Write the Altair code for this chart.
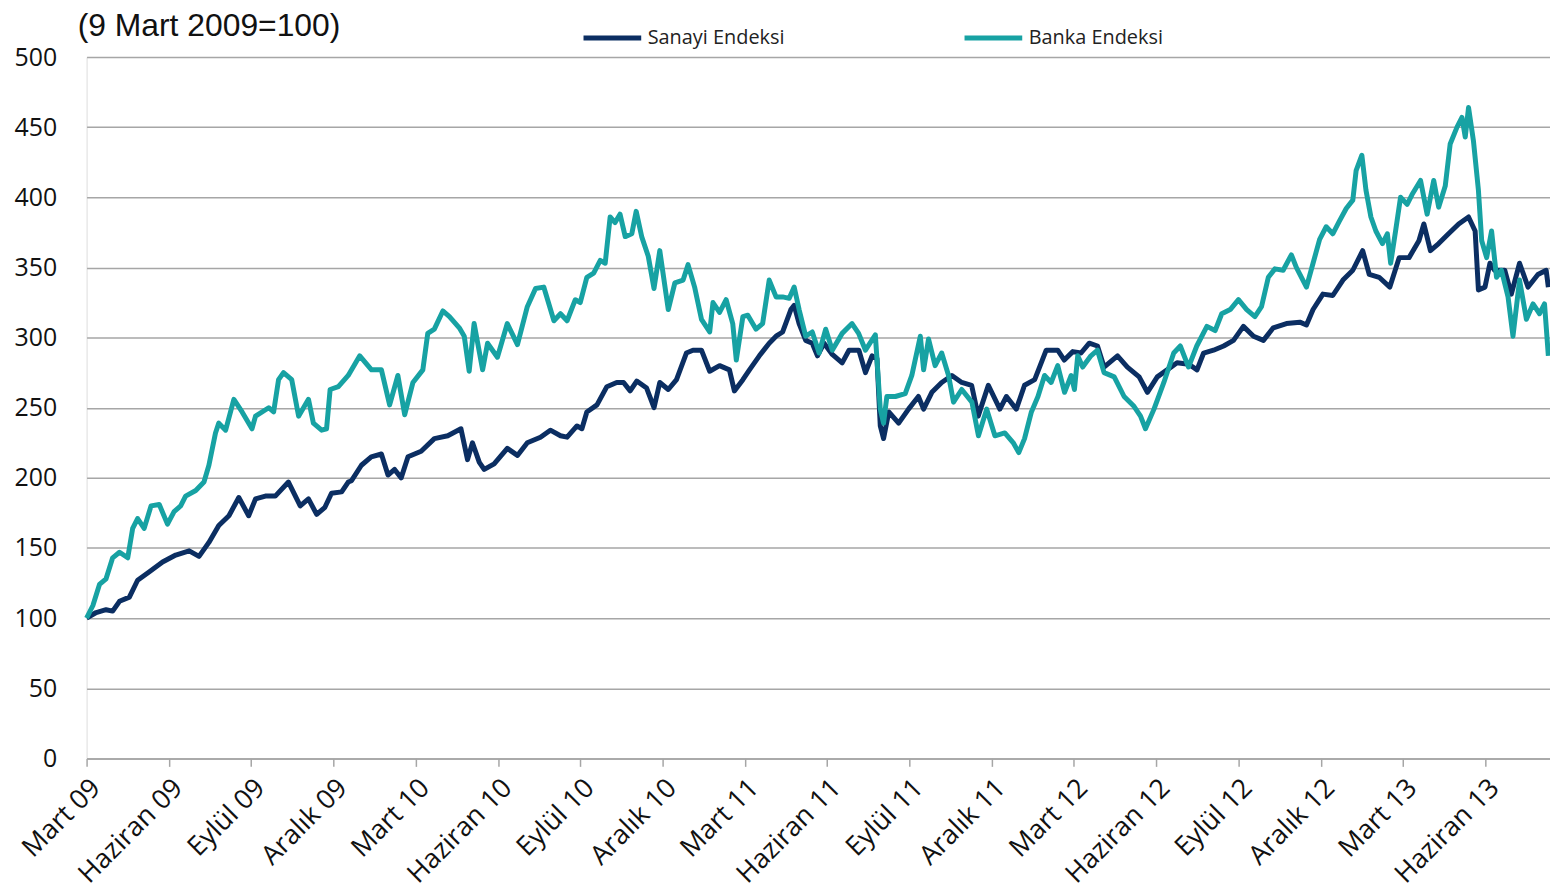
import altair as alt
import pandas as pd

# ---- data (month index: 0 = 9 Mart 2009) ----
sanayi_ay = [0, 0.35, 0.71, 0.95, 1.2, 1.56, 1.86, 2.29, 2.77, 3.25, 3.74, 4.1, 4.46, 4.82, 5.19, 5.55, 5.91,
             6.16, 6.52, 6.88, 7.36, 7.79, 8.09, 8.39, 8.69, 8.93, 9.3, 9.54, 9.66, 10.02, 10.38, 10.75, 10.99,
             11.23, 11.47, 11.72, 12.2, 12.68, 13.17, 13.65, 13.89, 14.07, 14.32, 14.5, 14.86, 15.34, 15.71,
             16.07, 16.55, 16.91, 17.28, 17.52, 17.88, 18.06, 18.24, 18.61, 18.97, 19.33, 19.58, 19.82, 20.06,
             20.42, 20.69, 20.9, 21.21, 21.51, 21.87, 22.11, 22.42, 22.72, 23.08, 23.44, 23.62, 23.93, 24.17,
             24.53, 24.89, 25.14, 25.38, 25.68, 25.8, 25.98, 26.22, 26.46, 26.65, 26.89, 27.19, 27.55, 27.8,
             28.16, 28.4, 28.64, 28.82, 28.94, 29.06, 29.25, 29.61, 29.97, 30.33, 30.52, 30.82, 31.18, 31.55,
             31.91, 32.27, 32.51, 32.88, 33.3, 33.54, 33.9, 34.2, 34.57, 34.99, 35.41, 35.65, 35.96, 36.26,
             36.56, 36.86, 37.1, 37.59, 37.95, 38.38, 38.68, 39.04, 39.4, 39.76, 40.19, 40.49, 40.73, 41.09,
             41.46, 41.82, 42.18, 42.55, 42.91, 43.27, 43.75, 44.24, 44.48, 44.72, 45.08, 45.44, 45.81, 46.17,
             46.53, 46.77, 47.13, 47.52, 47.86, 48.22, 48.58, 48.76, 49.0, 49.3, 49.66, 50.03, 50.39, 50.63,
             50.75, 50.99, 51.17, 51.34, 51.71, 51.95, 52.25, 52.56, 52.92, 53.22, 53.3]
sanayi = [100, 104, 106, 105, 112, 115, 127, 133, 140, 145, 148, 144, 154, 166, 173, 186, 173,
          185, 187, 187, 197, 180, 185, 174, 179, 189, 190, 197, 198, 209, 215, 217, 202,
          206, 200, 215, 219, 228, 230, 235, 213, 225, 211, 206, 210, 221, 216,
          225, 229, 234, 230, 229, 237, 235, 247, 252, 265, 268, 268, 262, 269,
          264, 250, 268, 263, 270, 289, 291, 291, 276, 280, 277, 262, 270, 277,
          287, 296, 301, 304, 320, 323, 310, 298, 296, 287, 296, 288, 282, 291,
          291, 275, 287, 285, 237, 228, 247, 239, 249, 258, 249, 261, 268, 273,
          268, 266, 244, 266, 249, 258, 249, 266, 270, 291, 291, 284, 290, 289,
          296, 294, 279, 287, 279, 272, 261, 272, 277, 282, 281, 277, 289, 291,
          294, 298, 308, 301, 298, 307, 310, 311, 309, 320, 331, 330, 341, 348,
          362, 345, 343, 336, 357, 357, 369, 381, 362, 367, 374, 381, 386, 376,
          334, 336, 353, 348, 348, 331, 353, 336, 345, 348, 336]

banka_ay = [0, 0.23, 0.47, 0.71, 0.95, 1.2, 1.5, 1.68, 1.86, 2.1, 2.35, 2.65, 2.95, 3.19, 3.43, 3.61, 3.98,
            4.28, 4.46, 4.7, 4.82, 5.07, 5.37, 5.67, 6.03, 6.16, 6.64, 6.82, 7.0, 7.18, 7.48, 7.73, 8.09,
            8.27, 8.57, 8.75, 8.88, 9.18, 9.54, 9.96, 10.39, 10.75, 11.05, 11.35, 11.6, 11.9, 12.26, 12.44,
            12.68, 12.99, 13.23, 13.59, 13.77, 13.95, 14.13, 14.44, 14.62, 14.98, 15.34, 15.71, 16.07, 16.37,
            16.67, 17.04, 17.28, 17.52, 17.82, 18.0, 18.24, 18.49, 18.73, 18.91, 19.09, 19.27, 19.45, 19.64,
            19.88, 20.04, 20.24, 20.48, 20.69, 20.9, 21.21, 21.45, 21.75, 21.93, 22.17, 22.42, 22.72, 22.84,
            23.08, 23.32, 23.56, 23.69, 23.93, 24.11, 24.41, 24.65, 24.89, 25.14, 25.38, 25.62, 25.8, 25.98,
            26.22, 26.46, 26.71, 26.95, 27.19, 27.55, 27.91, 28.15, 28.4, 28.76, 28.94, 29.06, 29.18, 29.49,
            29.85, 30.09, 30.4, 30.52, 30.7, 30.94, 31.18, 31.43, 31.61, 31.91, 32.28, 32.52, 32.82, 33.12,
            33.48, 33.79, 33.99, 34.2, 34.45, 34.69, 34.93, 35.17, 35.41, 35.66, 35.9, 36.02, 36.14, 36.32,
            36.62, 36.86, 37.1, 37.47, 37.83, 38.19, 38.43, 38.61, 38.92, 39.28, 39.64, 39.88, 40.18, 40.48,
            40.85, 41.15, 41.39, 41.7, 42.0, 42.3, 42.6, 42.84, 43.09, 43.33, 43.63, 43.93, 44.11, 44.48,
            44.72, 44.96, 45.2, 45.44, 45.68, 45.93, 46.17, 46.29, 46.5, 46.65, 46.83, 47.01, 47.25, 47.43,
            47.55, 47.73, 47.91, 48.15, 48.33, 48.64, 48.88, 49.12, 49.3, 49.54, 49.72, 49.97, 50.15, 50.27,
            50.39, 50.57, 50.75, 50.87, 51.05, 51.23, 51.41, 51.59, 51.83, 52.01, 52.25, 52.5, 52.74, 52.98,
            53.16, 53.3]
banka = [100, 109, 124, 128, 143, 147, 143, 164, 171, 164, 180, 181, 167, 176, 180, 187, 191,
         197, 209, 232, 239, 234, 256, 247, 235, 244, 250, 247, 270, 275, 270, 244, 256,
         239, 234, 235, 263, 265, 273, 287, 277, 277, 252, 273, 245, 268, 277, 303,
         306, 319, 315, 307, 301, 276, 310, 277, 296, 286, 310, 295, 322, 335,
         336, 312, 317, 312, 327, 325, 343, 346, 355, 353, 386, 382, 388, 372,
         374, 390, 372, 358, 335, 362, 320, 339, 341, 352, 336, 313, 304, 325,
         318, 327, 310, 284, 315, 316, 306, 310, 341, 329, 329, 328, 336, 320,
         301, 304, 289, 306, 291, 303, 310, 303, 291, 302, 249, 239, 258, 258,
         260, 273, 301, 277, 299, 280, 289, 273, 254, 263, 254, 230, 249, 230,
         232, 225, 218, 228, 247, 258, 273, 268, 280, 261, 273, 263, 287, 279,
         287, 291, 275, 272, 258, 251, 244, 235, 249, 268, 289, 294, 279, 294,
         308, 305, 317, 320, 327, 320, 315, 322, 343, 349, 348, 359, 350, 336,
         353, 370, 379, 374, 383, 392, 398, 419, 430, 405, 386, 376, 367, 374,
         353, 376, 400, 395, 402, 412, 388, 412, 393, 408, 438, 450, 457, 443,
         464, 440, 405, 369, 357, 376, 343, 348, 329, 301, 341, 313, 324, 317,
         324, 287]

tick_labels = ["Mart 09", "Haziran 09", "Eylül 09", "Aralık 09", "Mart 10", "Haziran 10",
               "Eylül 10", "Aralık 10", "Mart 11", "Haziran 11", "Eylül 11", "Aralık 11",
               "Mart 12", "Haziran 12", "Eylül 12", "Aralık 12", "Mart 13", "Haziran 13"]
series_names = ["Sanayi Endeksi", "Banka Endeksi"]
series_colors = ["#0b2e62", "#17a2a3"]

df = pd.concat([
    pd.DataFrame({"ay": sanayi_ay, "deger": sanayi, "seri": series_names[0]}),
    pd.DataFrame({"ay": banka_ay, "deger": banka, "seri": series_names[1]}),
], ignore_index=True)

label_expr = "[" + ",".join("'" + t + "'" for t in tick_labels) + "][round(datum.value/3)]"

x_enc = alt.X("ay:Q",
              scale=alt.Scale(domain=[0, 53.36], nice=False, zero=False),
              axis=alt.Axis(values=[3 * i for i in range(len(tick_labels))], labelExpr=label_expr,
                            title=None, grid=False, domain=True, domainColor="#a6a6a6",
                            domainWidth=1.5, ticks=True, tickSize=8, tickColor="#a6a6a6",
                            tickWidth=1.5, labelAngle=-45, labelAlign="right",
                            labelBaseline="top", labelFont="Open Sans", labelFontSize=27,
                            labelColor="#111111", labelPadding=8, labelOverlap=False,
                            labelFlush=False))
y_enc = alt.Y("deger:Q",
              scale=alt.Scale(domain=[0, 500], nice=False),
              axis=alt.Axis(values=list(range(0, 501, 50)), title=None, grid=True,
                            gridColor="#a6a6a6", gridWidth=1.5, domain=False, ticks=False,
                            labelFont="Open Sans", labelFontSize=25, labelColor="#111111",
                            labelPadding=30))
color_enc = alt.Color("seri:N",
                      scale=alt.Scale(domain=series_names, range=series_colors),
                      legend=alt.Legend(title=None, orient="none", direction="horizontal",
                                        legendX=497, legendY=-51, symbolType="stroke",
                                        symbolSize=3364, symbolStrokeWidth=5,
                                        labelFont="Open Sans", labelFontSize=20,
                                        labelColor="#222222", labelOffset=4,
                                        columnPadding=170, labelLimit=400, padding=0))

base = alt.Chart(df)
layer_s = base.transform_filter(alt.datum.seri == series_names[0]).mark_line(
    strokeWidth=5, strokeJoin="round").encode(x=x_enc, y=y_enc, color=color_enc)
layer_b = base.transform_filter(alt.datum.seri == series_names[1]).mark_line(
    strokeWidth=5, strokeJoin="round").encode(x=x_enc, y=y_enc, color=color_enc)

chart = alt.layer(layer_s, layer_b).properties(
    width=1471, height=705,
    title=alt.TitleParams("(9 Mart 2009=100)", anchor="start", frame="group", orient="top",
                          font="Liberation Sans", fontSize=32, fontWeight="normal",
                          color="#111111", dx=-9, dy=51, offset=14),
    autosize=alt.AutoSizeParams(type="none"),
    padding={"left": 79, "top": 47, "right": 0, "bottom": 134},
).configure_view(stroke=None).configure(background="white")

chart.save("out.html", embed_options={"renderer": "svg", "actions": False})
